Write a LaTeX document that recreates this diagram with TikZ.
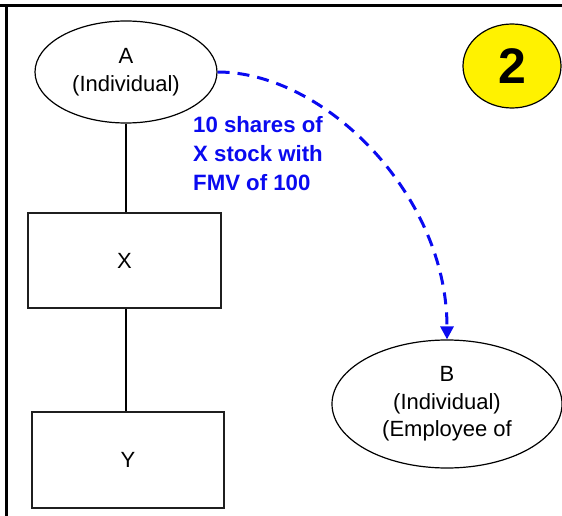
\documentclass[tikz,border=0pt]{standalone}
\usepackage{fontspec}
\setmainfont{Liberation Sans}
\usetikzlibrary{shapes.geometric,arrows.meta}
\tikzset{
  ent/.style={ellipse, draw=black, line width=1.2pt, inner sep=0pt, align=center,
    font=\fontsize{22}{27.5}\selectfont},
  box/.style={rectangle, draw=black!88, line width=1.5pt, inner sep=0pt,
    font=\fontsize{22}{27}\selectfont},
  link/.style={line width=1.2pt, draw=black},
  xfer/.style={draw={rgb,255:red,10;green,10;blue,240}, line width=3pt, dash pattern=on 12pt off 8pt,
    -{Triangle[length=13pt,width=13pt]}},
  xlabel/.style={text={rgb,255:red,10;green,10;blue,240}, align=left, anchor=north west, inner sep=0pt,
    font=\fontsize{22.2}{29}\selectfont\bfseries},
}
\begin{document}
\begin{tikzpicture}[x=1pt,y=-1pt]
\useasboundingbox (0,0) rectangle (562,516);
% frame
\draw[line width=3.5pt] (0,5.5) -- (562,5.5);
\draw[line width=3pt] (6,7) -- (6,516);
% nodes
\node[ent, minimum width=182pt, minimum height=102pt] (A) at (126,72) {A\\(Individual)};
\node[box, minimum width=193pt, minimum height=95pt] (X) at (124.5,260.5) {X};
\node[box, minimum width=192pt, minimum height=96pt] (Y) at (128,460) {Y};
\node[ent, minimum width=230pt, minimum height=128pt] (B) at (447,404) {B\\(Individual)\\(Employee of};
\node[ellipse, draw=black, line width=1.2pt, fill=yellow, minimum width=98pt, minimum height=84pt,
  inner sep=0pt, font=\fontsize{50}{50}\selectfont\bfseries] (two) at (512,66) {2};
% connectors
\draw[link] (A.south) -- (A.south |- X.north);
\draw[link] (A.south |- X.south) -- (A.south |- Y.north);
\draw[xfer] (A.east) .. controls (325,72) and (447,195) .. (B.north);
\node[xlabel] (lbl) at (193,116) {10 shares of\\X stock with\\FMV of 100};
\end{tikzpicture}
\end{document}
